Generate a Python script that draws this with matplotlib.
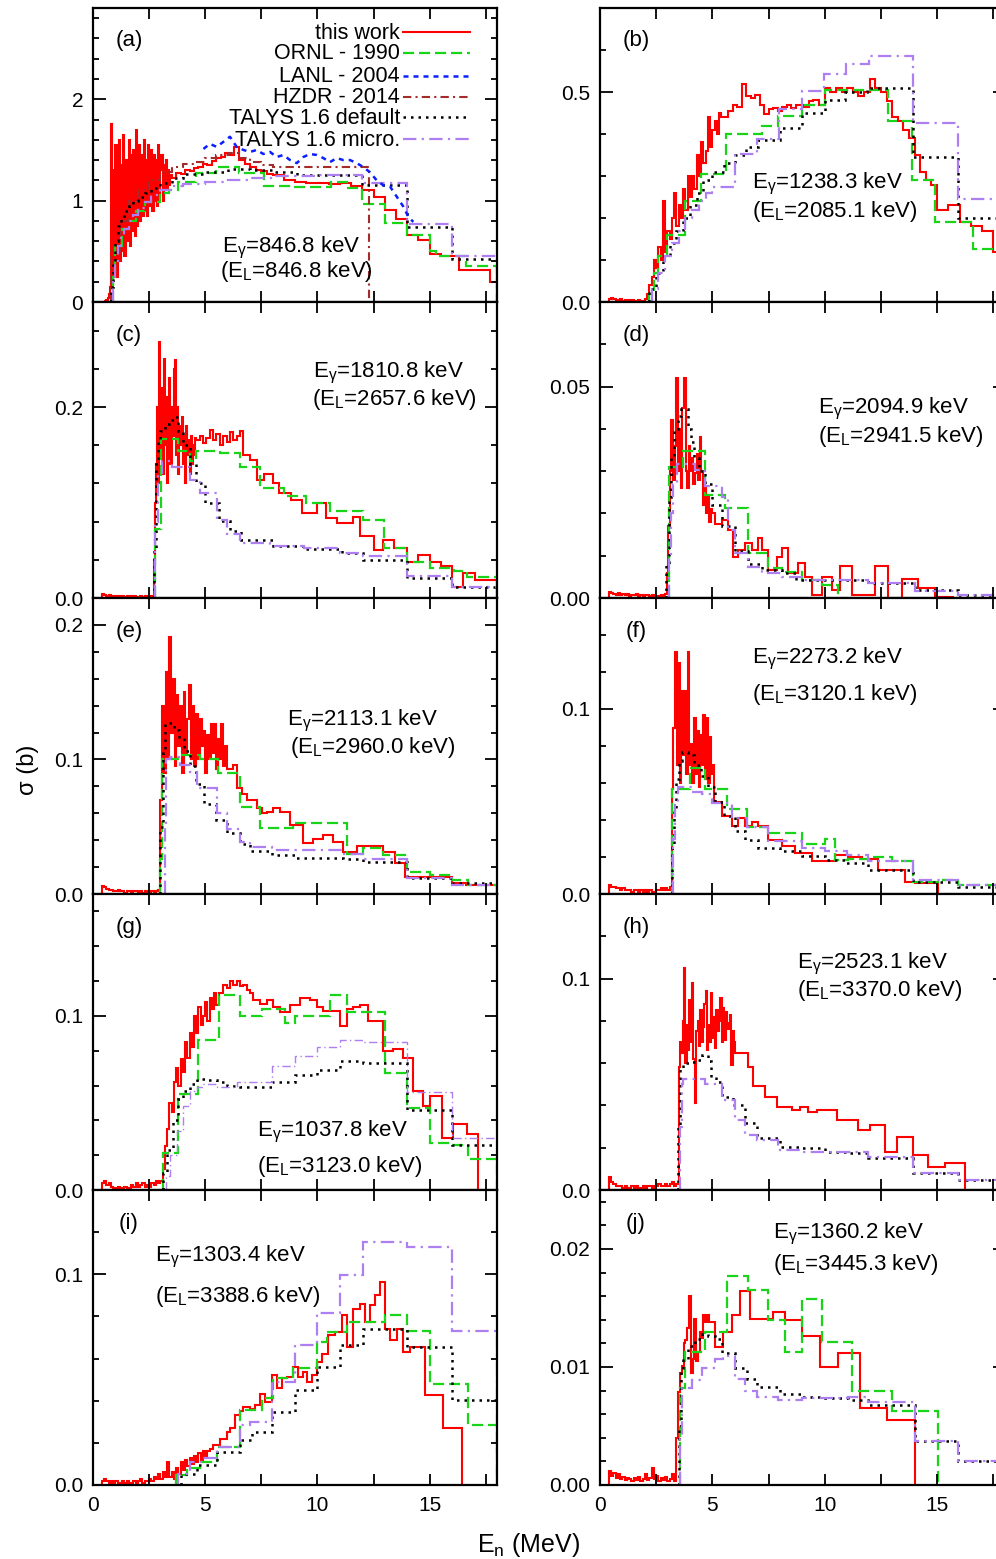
import numpy as np
import matplotlib
matplotlib.use("Agg")
import matplotlib.pyplot as plt
from matplotlib.ticker import MultipleLocator, FormatStrFormatter, NullFormatter

plt.rcParams['font.family'] = ['Liberation Sans', 'DejaVu Sans']
plt.rcParams['mathtext.fontset'] = 'custom'
plt.rcParams['mathtext.rm'] = 'Liberation Sans'
plt.rcParams['mathtext.it'] = 'Liberation Sans:italic'
plt.rcParams['mathtext.default'] = 'regular'

# ======================= DATA (energies in MeV, cross sections in b) =======================
# ---- panel (a) ----
A_WORK_BASE_Y = [0.0, 0.0, 0.0, 0.01, 0.02, 0.04, 0.08, 0.15]          # 0.4 .. 0.8, width 0.05
A_WORK_PEAK_Y = [1.76, 0.15, 1.3, 0.3, 1.55, 0.25, 1.1, 1.6, 0.4, 1.35,
                 0.5, 1.65, 0.45, 1.4, 0.6, 1.2, 1.6, 0.55, 1.45, 0.7,
                 1.5, 0.65, 1.7, 0.75, 1.3, 1.55, 0.8, 1.45, 0.85, 1.6,
                 0.9, 1.4, 0.85, 1.55, 0.95, 1.35, 1.5, 0.9, 1.45, 1.0,
                 1.4, 0.95, 1.55, 1.05, 1.3, 1.45, 1.0, 1.35, 1.1, 1.4,
                 1.1, 1.3, 1.15, 1.25]                                      # 0.8 .. 3.5, width 0.05
A_WORK_MID_Y = [1.22, 1.27, 1.26, 1.3, 1.29, 1.32, 1.33, 1.36, 1.35, 1.39,
                1.42, 1.43, 1.47, 1.45, 1.53]                               # 3.5 .. 6.5, width 0.2
A_WORK_TAIL_E = [6.5, 6.75, 7.0, 7.25, 7.5, 7.75, 8.0, 8.5, 9.0, 9.5, 10.0, 10.5, 11.0,
                 11.5, 12.0, 12.5, 13.0, 13.5, 14.0, 14.5, 15.0, 15.5, 16.3, 17.7, 18.0]
A_WORK_TAIL_Y = [1.4, 1.36, 1.33, 1.3, 1.29, 1.26, 1.25, 1.2, 1.18, 1.17, 1.17, 1.16,
                 1.17, 1.14, 1.1, 1.04, 0.91, 0.82, 0.66, 0.61, 0.47, 0.45, 0.32, 0.2]
A_ORNL_E = [0.9, 1.0, 1.3, 1.6, 1.9, 2.3, 3.0, 3.4, 3.8, 4.6, 5.5, 6.5, 7.6, 8.8, 10.6,
            11.3, 12.0, 13.0, 14.0, 15.0, 15.3, 16.6, 18.0]
A_ORNL_Y = [0.25, 0.55, 0.72, 0.8, 0.9, 0.99, 1.08, 1.1, 1.18, 1.27, 1.33, 1.27, 1.14,
            1.13, 1.18, 1.12, 0.97, 0.78, 0.66, 0.5, 0.45, 0.36]
A_LANL_E = [4.92, 5.21, 5.51, 5.81, 6.1, 6.4, 6.7, 7.0, 7.29, 7.59, 7.89, 8.18, 8.48,
            8.78, 9.08, 9.37, 9.67, 9.97, 10.26, 10.56, 10.86, 11.15, 11.45, 11.75,
            12.05, 12.34, 12.64, 12.94, 13.23, 13.53, 13.83, 14.05, 14.27]
A_LANL_Y = [1.51, 1.56, 1.53, 1.58, 1.63, 1.53, 1.5, 1.48, 1.5, 1.46, 1.48, 1.43, 1.45,
            1.4, 1.37, 1.43, 1.46, 1.45, 1.42, 1.38, 1.42, 1.4, 1.4, 1.37, 1.33, 1.28,
            1.2, 1.15, 1.14, 1.04, 0.94, 0.84, 0.79]
A_HZDR_E = [0.8, 1.2, 1.6, 2.0, 2.5, 3.0, 3.5, 4.0, 4.5, 5.0, 5.5, 6.0, 6.5, 7.0, 7.5,
            8.0, 8.5, 12.3]
A_HZDR_Y = [0.5, 0.8, 1.0, 1.1, 1.2, 1.28, 1.33, 1.36, 1.38, 1.42, 1.45, 1.47, 1.42,
            1.38, 1.35, 1.33, 1.33]
A_TDEF_E = [0.8, 0.9, 1.0, 1.1, 1.25, 1.4, 1.6, 1.8, 2.0, 2.3, 2.6, 3.0, 3.5, 4.0, 5.0,
            6.0, 7.0, 8.0, 9.1, 12.0, 14.0, 16.0, 18.0]
A_TDEF_Y = [0.15, 0.38, 0.6, 0.75, 0.82, 0.9, 0.95, 1.0, 1.04, 1.08, 1.12, 1.17, 1.22,
            1.26, 1.28, 1.31, 1.3, 1.28, 1.25, 1.15, 0.74, 0.42]
A_TMIC_E = [0.9, 1.0, 1.1, 1.25, 1.4, 1.6, 1.8, 2.0, 2.3, 2.6, 3.0, 3.5, 4.0, 5.0, 6.0,
            7.0, 8.0, 10.0, 12.0, 14.0, 16.0, 18.0]
A_TMIC_Y = [0.2, 0.4, 0.55, 0.65, 0.72, 0.8, 0.86, 0.93, 0.99, 1.06, 1.1, 1.14, 1.16,
            1.18, 1.2, 1.22, 1.24, 1.25, 1.175, 0.77, 0.45]

# ---- panel (b) ----
B_WORK_BASE_Y = [0.008, 0.01, 0.006, 0.005, 0.004, 0.006, 0.003, 0.004, 0.005, 0.003,
                 0.004, 0.002, 0.003, 0.004, 0.002, 0.003, 0.006]            # 0.4 .. 2.1, width 0.1
B_WORK_PEAK_Y = [0.02, 0.04, 0.06, 0.1, 0.08, 0.13, 0.1, 0.24, 0.12, 0.17,
                 0.15, 0.2, 0.26, 0.18, 0.23, 0.2, 0.27, 0.22, 0.3, 0.25,
                 0.3, 0.27, 0.35, 0.3, 0.38, 0.33, 0.36, 0.44, 0.37, 0.41,
                 0.43, 0.4, 0.45, 0.44]                                      # 2.1 .. 5.5, width 0.1
B_WORK_TAIL_E = [5.5, 5.7, 5.9, 6.1, 6.3, 6.5, 6.7, 6.9, 7.1, 7.3, 7.5, 7.7, 7.9, 8.1,
                 8.3, 8.5, 8.7, 8.9, 9.1, 9.3, 9.5, 9.75, 10.0, 10.25, 10.5, 10.75,
                 11.0, 11.25, 11.5, 11.75, 12.0, 12.25, 12.5, 12.75, 13.0, 13.25, 13.5,
                 13.75, 14.0, 14.25, 14.5, 14.75, 15.0, 15.25, 15.5, 15.75, 16.0, 16.5,
                 17.0, 17.5, 18.0]
B_WORK_TAIL_Y = [0.44, 0.455, 0.47, 0.465, 0.518, 0.49, 0.486, 0.494, 0.47, 0.447,
                 0.46, 0.463, 0.455, 0.465, 0.47, 0.462, 0.468, 0.47, 0.465, 0.478,
                 0.48, 0.47, 0.51, 0.5, 0.51, 0.5, 0.51, 0.5, 0.49, 0.5,
                 0.53, 0.51, 0.5, 0.478, 0.44, 0.43, 0.41, 0.39, 0.35, 0.31,
                 0.29, 0.278, 0.22, 0.22, 0.23, 0.23, 0.19, 0.18, 0.17, 0.12]
B_ORNL_E = [2.2, 2.4, 2.6, 3.0, 3.8, 4.5, 5.6, 7.2, 7.9, 9.0, 10.0, 12.8, 13.9, 14.9,
            16.6, 18.0]
B_ORNL_Y = [0.02, 0.07, 0.11, 0.16, 0.24, 0.305, 0.4, 0.42, 0.443, 0.47, 0.505, 0.43,
            0.29, 0.19, 0.126]
B_TDEF_E = [2.2, 2.5, 2.8, 3.1, 3.4, 3.7, 4.0, 4.3, 4.6, 5.0, 5.5, 6.0, 6.5, 7.05, 8.0,
            9.0, 10.0, 10.9, 11.9, 13.95, 15.95, 18.0]
B_TDEF_Y = [0.03, 0.07, 0.11, 0.14, 0.17, 0.2, 0.23, 0.26, 0.29, 0.31, 0.33, 0.35, 0.37,
            0.385, 0.415, 0.449, 0.48, 0.5, 0.51, 0.345, 0.2]
B_TMIC_E = [2.3, 2.6, 2.9, 3.2, 3.5, 3.8, 4.1, 4.4, 4.7, 5.0, 6.0, 7.0, 7.95, 8.97,
            9.95, 10.95, 11.95, 13.95, 15.95, 18.0]
B_TMIC_Y = [0.03, 0.07, 0.11, 0.14, 0.17, 0.2, 0.22, 0.24, 0.26, 0.273, 0.352, 0.388,
            0.46, 0.503, 0.542, 0.566, 0.586, 0.426, 0.245]

# ---- panel (c) ----
C_WORK_BASE_Y = [0.004, 0.003, 0.002, 0.003, 0.002, 0.001, 0.002, 0.002, 0.001, 0.002,
                 0.001, 0.002, 0.002, 0.001, 0.002, 0.001, 0.001, 0.002, 0.001, 0.002,
                 0.001, 0.001, 0.002]                                        # 0.4 .. 2.7, width 0.1
C_WORK_PEAK_Y = [0.04, 0.1, 0.14, 0.2, 0.12, 0.268, 0.15, 0.22, 0.13, 0.25,
                 0.16, 0.21, 0.12, 0.19, 0.23, 0.14, 0.2, 0.17, 0.24, 0.249,
                 0.15, 0.2, 0.13, 0.18, 0.16, 0.19, 0.14, 0.17, 0.12, 0.18,
                 0.15, 0.165, 0.13, 0.17, 0.14, 0.16, 0.15, 0.168]             # 2.7 .. 4.6, width 0.05
C_WORK_TAIL_E = [4.6, 4.75, 4.9, 5.05, 5.2, 5.35, 5.5, 5.65, 5.8, 5.95, 6.1, 6.25, 6.4,
                 6.55, 6.7, 7.0, 7.3, 7.6, 8.0, 8.3, 8.8, 9.3, 10.0, 10.4, 10.86, 11.6,
                 11.9, 12.5, 12.9, 13.4, 14.0, 14.5, 15.0, 15.5, 16.0, 16.5, 17.0, 18.0]
C_WORK_TAIL_Y = [0.165, 0.17, 0.162, 0.168, 0.176, 0.165, 0.172, 0.16, 0.17, 0.163,
                 0.174, 0.165, 0.17, 0.175, 0.15, 0.145, 0.124, 0.13, 0.12, 0.11,
                 0.103, 0.089, 0.1, 0.084, 0.079, 0.085, 0.065, 0.05, 0.061, 0.052,
                 0.038, 0.045, 0.038, 0.033, 0.012, 0.026, 0.019]
C_ORNL_E = [2.75, 3.05, 3.8, 4.3, 4.6, 5.65, 6.55, 7.45, 8.5, 9.5, 10.55, 12.05, 12.95,
            14.0, 15.0, 16.1, 16.65, 18.0]
C_ORNL_Y = [0.072, 0.166, 0.154, 0.143, 0.154, 0.152, 0.137, 0.115, 0.107, 0.1, 0.091,
            0.082, 0.052, 0.038, 0.031, 0.028, 0.022]
C_TDEF_E = [2.7, 2.8, 2.9, 3.0, 3.2, 3.4, 3.6, 3.8, 4.0, 4.3, 4.6, 5.0, 5.6, 6.1, 6.6,
            8.0, 9.5, 11.1, 12.05, 14.0, 16.0, 18.0]
C_TDEF_Y = [0.05, 0.14, 0.165, 0.175, 0.182, 0.186, 0.19, 0.175, 0.16, 0.14, 0.12, 0.1,
            0.081, 0.07, 0.061, 0.054, 0.051, 0.047, 0.04, 0.021, 0.012]
C_TMIC_E = [2.75, 2.9, 3.08, 3.54, 4.32, 4.77, 5.51, 5.96, 6.55, 7.9, 9.4, 11.0, 12.05,
            14.0, 16.0, 18.0]
C_TMIC_Y = [0.08, 0.13, 0.143, 0.137, 0.124, 0.11, 0.082, 0.067, 0.058, 0.054, 0.052,
            0.047, 0.044, 0.023, 0.012]

# ---- panel (d) ----
D_WORK_BASE_Y = [0.0015, 0.0012, 0.001, 0.0008, 0.0012, 0.0006, 0.0009, 0.0007, 0.001,
                 0.0005, 0.0008, 0.0006, 0.0009, 0.0004, 0.0007, 0.0005, 0.0006, 0.0008,
                 0.0004, 0.0006, 0.0003, 0.0005, 0.0004, 0.0006, 0.0003]     # 0.4 .. 2.9, width 0.1
D_WORK_PEAK_Y = [0.001, 0.006, 0.017, 0.03, 0.042, 0.028, 0.036, 0.052, 0.03, 0.04,
                 0.026, 0.045, 0.052, 0.03, 0.026, 0.036, 0.03, 0.033, 0.027, 0.0295,
                 0.034, 0.028, 0.038, 0.03, 0.022, 0.026, 0.02, 0.024, 0.018, 0.021]  # 2.9 .. 5.0, width 0.07
D_WORK_TAIL_E = [5.0, 5.12, 5.41, 5.71, 5.93, 6.16, 6.45, 6.75, 7.05, 7.19, 7.49, 7.86,
                 8.1, 8.38, 8.83, 9.12, 9.42, 9.87, 10.31, 10.68, 11.2, 11.72, 12.24,
                 12.83, 13.43, 14.17, 14.9, 15.7]
D_WORK_TAIL_Y = [0.02, 0.0175, 0.0185, 0.0161, 0.0098, 0.0114, 0.0129, 0.0114, 0.0141,
                 0.0114, 0.0066, 0.0098, 0.0118, 0.0058, 0.0082, 0.005, 0.0007, 0.005,
                 0.0018, 0.0075, 0.0007, 0.0007, 0.0075, 0.0, 0.0044, 0.0024, 0.0003]
D_ORNL_E = [3.05, 3.71, 4.67, 5.56, 6.6, 7.49, 8.08, 8.97, 9.87, 10.6]
D_ORNL_Y = [0.031, 0.0347, 0.0244, 0.0213, 0.0106, 0.007, 0.0062, 0.0043, 0.0031]
D_TDEF_E = [2.95, 3.05, 3.15, 3.3, 3.45, 3.6, 3.9, 4.05, 4.2, 4.4, 4.67, 4.97, 5.41,
            6.0, 6.6, 7.19, 8.08, 8.7, 11.94, 14.0, 15.95, 18.0]
D_TDEF_Y = [0.008, 0.024, 0.033, 0.04, 0.043, 0.0446, 0.04, 0.037, 0.033, 0.03, 0.027,
            0.022, 0.017, 0.011, 0.008, 0.0066, 0.0058, 0.0043, 0.0035, 0.0019, 0.0007]
D_TMIC_E = [3.05, 3.15, 3.26, 3.41, 4.23, 4.67, 5.41, 5.71, 6.0, 6.6, 7.19, 8.08, 8.97,
            11.94, 14.0, 15.95, 18.0]
D_TMIC_Y = [0.01, 0.02, 0.027, 0.0318, 0.0302, 0.0264, 0.024, 0.016, 0.0106, 0.0074,
            0.0058, 0.005, 0.0043, 0.0035, 0.0016, 0.0007]

# ---- panel (e) ----
E_WORK_BASE_Y = [0.006, 0.005, 0.004, 0.003, 0.003, 0.002, 0.002, 0.003, 0.002, 0.002,
                 0.001, 0.002, 0.002, 0.001, 0.002, 0.002, 0.001, 0.002, 0.001, 0.002,
                 0.001, 0.001, 0.002, 0.001, 0.002, 0.003]                   # 0.4 .. 3.0, width 0.1
E_WORK_PEAK_Y = [0.07, 0.14, 0.09, 0.165, 0.1, 0.191, 0.12, 0.16, 0.095, 0.148,
                 0.11, 0.14, 0.09, 0.15, 0.105, 0.13, 0.155, 0.1, 0.14, 0.095,
                 0.134, 0.1, 0.13, 0.11, 0.121, 0.09, 0.118, 0.1, 0.126, 0.105,
                 0.126, 0.093, 0.115, 0.1, 0.126, 0.095, 0.11]               # 3.0 .. 5.96, width 0.08
E_WORK_TAIL_E = [5.96, 6.25, 6.4, 6.62, 6.85, 7.29, 7.52, 7.74, 8.04, 8.33, 8.78, 9.37,
                 9.82, 10.26, 10.71, 11.16, 11.75, 12.94, 13.46, 13.9, 16.0, 16.6, 18.0]
E_WORK_TAIL_Y = [0.093, 0.096, 0.079, 0.074, 0.07, 0.064, 0.06, 0.061, 0.064, 0.061,
                 0.051, 0.038, 0.041, 0.044, 0.039, 0.031, 0.036, 0.031, 0.023, 0.013,
                 0.008, 0.007]
E_ORNL_E = [2.99, 3.06, 3.8, 4.77, 5.59, 6.55, 7.44, 8.93, 11.3, 12.05, 12.94, 14.0,
            15.0, 16.0, 16.7, 18.0]
E_ORNL_Y = [0.026, 0.1, 0.103, 0.1, 0.09, 0.065, 0.049, 0.053, 0.03, 0.034, 0.029,
            0.016, 0.014, 0.0105, 0.007]
E_TDEF_E = [3.0, 3.1, 3.2, 3.35, 3.6, 3.85, 4.05, 4.3, 4.6, 4.95, 5.5, 5.96, 6.55, 7.0,
            7.96, 9.0, 11.16, 12.05, 14.0, 16.0, 18.0]
E_TDEF_Y = [0.05, 0.105, 0.127, 0.127, 0.122, 0.116, 0.106, 0.095, 0.082, 0.067, 0.055,
            0.045, 0.037, 0.032, 0.029, 0.027, 0.026, 0.024, 0.0122, 0.008]
E_TMIC_E = [3.2, 3.27, 3.43, 3.88, 4.32, 4.62, 5.51, 5.96, 6.55, 7.0, 7.96, 11.16, 12.05,
            14.0, 16.0, 18.0]
E_TMIC_Y = [0.05, 0.1, 0.102, 0.096, 0.091, 0.079, 0.06, 0.048, 0.039, 0.035, 0.033,
            0.03, 0.026, 0.012, 0.007]

# ---- panel (f) ----
F_WORK_BASE_Y = [0.005, 0.004, 0.004, 0.003, 0.003, 0.002, 0.003, 0.002, 0.002, 0.002,
                 0.001, 0.002, 0.002, 0.001, 0.002, 0.001, 0.002, 0.001, 0.002, 0.001,
                 0.001, 0.002, 0.002, 0.003, 0.002, 0.003, 0.002, 0.004]     # 0.4 .. 3.2, width 0.1
F_WORK_PEAK_Y = [0.057, 0.09, 0.131, 0.07, 0.125, 0.06, 0.11, 0.075, 0.11, 0.065,
                 0.131, 0.07, 0.081, 0.06, 0.095, 0.065, 0.088, 0.058, 0.086, 0.07,
                 0.097, 0.062, 0.095, 0.06, 0.085, 0.065, 0.07]               # 3.2 .. 5.09, width 0.07
F_WORK_TAIL_E = [5.09, 5.41, 5.86, 6.16, 6.45, 6.75, 7.05, 7.49, 8.08, 8.68, 9.42, 10.46,
                 11.05, 11.64, 12.39, 13.57, 14.0, 15.06]
F_WORK_TAIL_Y = [0.05, 0.042, 0.037, 0.041, 0.037, 0.039, 0.037, 0.029, 0.026, 0.022,
                 0.018, 0.021, 0.02, 0.019, 0.013, 0.0067, 0.0058]
F_ORNL_E = [3.2, 4.0, 4.67, 5.63, 6.53, 7.49, 8.97, 10.0, 10.46, 11.05, 12.09, 12.98,
            13.94, 15.06, 15.95, 18.0]
F_ORNL_Y = [0.057, 0.068, 0.057, 0.046, 0.036, 0.033, 0.027, 0.03, 0.0185, 0.019, 0.02,
            0.0176, 0.0067, 0.0076, 0.0049]
F_TDEF_E = [3.2, 3.3, 3.4, 3.5, 3.65, 3.9, 4.2, 4.5, 4.8, 5.1, 5.5, 6.0, 6.45, 7.05, 8.0,
            8.97, 10.0, 10.9, 11.94, 13.94, 15.95, 18.0]
F_TDEF_Y = [0.025, 0.045, 0.062, 0.072, 0.077, 0.075, 0.07, 0.064, 0.058, 0.05, 0.042,
            0.034, 0.029, 0.025, 0.023, 0.0205, 0.0185, 0.0167, 0.013, 0.0067, 0.004]
F_TMIC_E = [3.26, 3.34, 3.49, 4.08, 4.52, 4.97, 5.86, 6.53, 7.49, 8.97, 10.0, 10.98,
            11.94, 13.94, 15.95, 18.0]
F_TMIC_Y = [0.03, 0.048, 0.058, 0.055, 0.054, 0.049, 0.041, 0.036, 0.0285, 0.025,
            0.0231, 0.0212, 0.0176, 0.0076, 0.0049]

# ---- panel (g) ----
G_WORK_BASE_Y = [0.004, 0.005, 0.003, 0.004, 0.002, 0.001, 0.001, 0.002, 0.001, 0.001,
                 0.002, 0.001, 0.001, 0.003, 0.002, 0.004, 0.002, 0.003, 0.004, 0.002,
                 0.003, 0.002, 0.004, 0.003, 0.005, 0.004]                   # 0.4 .. 3.0, width 0.1
G_WORK_PEAK_Y = [0.005, 0.012, 0.025, 0.035, 0.05, 0.045, 0.062, 0.07, 0.06, 0.075,
                 0.068, 0.085, 0.076, 0.09, 0.082, 0.1, 0.09, 0.105, 0.095, 0.1,
                 0.108, 0.097, 0.11, 0.104, 0.113, 0.106]                    # 3.0 .. 5.6, width 0.1
G_WORK_TAIL_E = [5.6, 5.8, 5.95, 6.1, 6.25, 6.4, 6.55, 6.7, 6.85, 7.0, 7.14, 7.44, 7.74,
                 8.04, 8.33, 8.78, 9.22, 9.67, 9.97, 10.26, 11.0, 11.3, 11.6, 11.9,
                 12.27, 12.94, 13.38, 13.83, 14.27, 14.72, 15.0, 15.54, 16.06, 16.65, 17.17]
G_WORK_TAIL_Y = [0.113, 0.118, 0.116, 0.12, 0.118, 0.12, 0.117, 0.118, 0.115, 0.113,
                 0.109, 0.107, 0.109, 0.105, 0.102, 0.106, 0.11, 0.109, 0.105, 0.103,
                 0.094, 0.104, 0.105, 0.106, 0.097, 0.08, 0.081, 0.076, 0.057, 0.048,
                 0.054, 0.03, 0.038, 0.032]
G_ORNL_E = [3.13, 3.8, 4.7, 5.6, 6.55, 7.52, 8.55, 9.0, 10.56, 11.3, 13.0, 14.0, 15.0,
            16.0, 16.7, 18.0]
G_ORNL_Y = [0.021, 0.055, 0.086, 0.112, 0.1, 0.104, 0.096, 0.1, 0.112, 0.102, 0.067,
            0.047, 0.027, 0.026, 0.018]
G_TDEF_E = [3.1, 3.3, 3.55, 3.8, 4.0, 4.3, 4.62, 5.07, 5.51, 5.96, 6.55, 7.96, 9.0, 9.97,
            11.0, 12.05, 14.0, 16.0, 18.0]
G_TDEF_Y = [0.01, 0.023, 0.04, 0.052, 0.057, 0.061, 0.064, 0.063, 0.062, 0.06, 0.059,
            0.062, 0.066, 0.069, 0.074, 0.073, 0.046, 0.026]
G_TMIC_E = [3.25, 3.45, 3.73, 4.02, 4.32, 4.62, 4.92, 5.51, 6.4, 7.96, 9.0, 9.97, 11.0,
            12.05, 14.0, 16.0, 18.0]
G_TMIC_Y = [0.008, 0.02, 0.034, 0.048, 0.057, 0.059, 0.061, 0.059, 0.062, 0.071, 0.077,
            0.082, 0.086, 0.085, 0.056, 0.03]

# ---- panel (h) ----
H_WORK_BASE_Y = [0.006, 0.004, 0.003, 0.002, 0.002, 0.002, 0.001, 0.002, 0.001, 0.001,
                 0.002, 0.001, 0.002, 0.001, 0.001, 0.002, 0.001, 0.002, 0.002, 0.001,
                 0.002, 0.002, 0.003, 0.002, 0.002, 0.003, 0.002, 0.003, 0.004, 0.002,
                 0.003]                                                      # 0.4 .. 3.5, width 0.1
H_WORK_PEAK_Y = [0.058, 0.07, 0.065, 0.08, 0.105, 0.06, 0.078, 0.066, 0.09, 0.07,
                 0.098, 0.062, 0.041, 0.075, 0.08, 0.068, 0.085, 0.07, 0.077, 0.088,
                 0.094, 0.066, 0.078, 0.07, 0.093, 0.072, 0.082, 0.067, 0.085, 0.075,
                 0.08, 0.091, 0.07, 0.086, 0.071, 0.084, 0.076, 0.079, 0.083, 0.059,
                 0.075, 0.07]                                                # 3.5 .. 6.02, width 0.06
H_WORK_TAIL_E = [6.02, 6.6, 6.82, 7.34, 7.86, 8.53, 8.9, 9.27, 9.64, 10.53, 11.5, 12.0,
                 12.68, 13.2, 13.94, 14.6, 15.35, 16.24]
H_WORK_TAIL_Y = [0.065, 0.058, 0.049, 0.044, 0.0393, 0.0377, 0.0393, 0.037, 0.0377,
                 0.033, 0.0283, 0.0307, 0.0181, 0.0252, 0.0165, 0.011, 0.0126]
H_TDEF_E = [3.45, 3.56, 3.7, 3.95, 4.25, 4.55, 4.8, 4.95, 5.15, 5.45, 5.9, 6.45, 6.97,
            8.01, 8.97, 10.0, 11.05, 11.94, 13.94, 15.95, 18.0]
H_TDEF_Y = [0.03, 0.057, 0.06, 0.0605, 0.0613, 0.0637, 0.061, 0.0535, 0.0511, 0.044,
            0.04, 0.0315, 0.0244, 0.0204, 0.0197, 0.0181, 0.0173, 0.015, 0.0079, 0.0047]
H_TMIC_E = [3.56, 3.64, 3.71, 4.67, 5.41, 6.0, 6.45, 6.97, 7.93, 8.97, 11.94, 13.94,
            15.95, 18.0]
H_TMIC_Y = [0.03, 0.0503, 0.0527, 0.0503, 0.0425, 0.033, 0.026, 0.0236, 0.0189, 0.0181,
            0.0157, 0.0082, 0.0047]

# ---- panel (i) ----
I_WORK_BASE_Y = [0.002, 0.003, 0.002, 0.001, 0.002, 0.001, 0.002, 0.001, 0.001, 0.002,
                 0.001, 0.002, 0.001, 0.001, 0.002, 0.001, 0.002, 0.003, 0.001, 0.002,
                 0.002, 0.003, 0.002, 0.004, 0.003, 0.005, 0.003, 0.006, 0.004, 0.011,
                 0.004, 0.006, 0.003, 0.008, 0.005, 0.011, 0.007, 0.012, 0.009, 0.013,
                 0.01, 0.014, 0.011, 0.015, 0.012, 0.016, 0.014, 0.016]       # 0.4 .. 5.2, width 0.1
I_WORK_TAIL_E = [5.2, 5.36, 5.66, 5.96, 6.1, 6.33, 6.55, 6.7, 7.0, 7.2, 7.44, 7.66, 7.96,
                 8.18, 8.4, 8.63, 8.93, 9.15, 9.37, 9.52, 9.74, 9.97, 10.19, 10.49,
                 10.78, 11.08, 11.3, 11.6, 11.9, 12.12, 12.34, 12.57, 12.79, 13.01,
                 13.23, 13.53, 13.83, 14.12, 14.8, 15.6, 16.43]
I_WORK_TAIL_Y = [0.017, 0.019, 0.022, 0.025, 0.027, 0.033, 0.035, 0.037, 0.036, 0.038,
                 0.043, 0.0395, 0.052, 0.046, 0.0506, 0.0514, 0.0561, 0.0514, 0.0537,
                 0.049, 0.0521, 0.0585, 0.0624, 0.0711, 0.0727, 0.0806, 0.0656, 0.0837,
                 0.0861, 0.0774, 0.0853, 0.09, 0.0964, 0.0742, 0.0687, 0.0742, 0.0632,
                 0.0656, 0.0427, 0.0269]
I_ORNL_E = [3.7, 4.2, 4.77, 5.51, 6.55, 7.52, 8.04, 8.93, 9.97, 10.41, 11.3, 13.01,
            13.98, 15.0, 16.7, 18.0]
I_ORNL_Y = [0.0047, 0.0079, 0.011, 0.0182, 0.0356, 0.0411, 0.0506, 0.0553, 0.068, 0.0727,
            0.0774, 0.0809, 0.0732, 0.048, 0.0284]
I_TDEF_E = [3.9, 4.62, 5.51, 6.55, 7.07, 7.96, 9.0, 9.97, 11.0, 12.05, 14.0, 16.0, 18.0]
I_TDEF_Y = [0.005, 0.0095, 0.0158, 0.0213, 0.0253, 0.0348, 0.045, 0.0561, 0.0664, 0.0742,
            0.0656, 0.0403]
I_TMIC_E = [3.8, 4.3, 4.92, 5.51, 6.55, 7.0, 7.96, 9.0, 9.97, 11.0, 12.05, 14.0, 16.0,
            18.0]
I_TMIC_Y = [0.005, 0.011, 0.0126, 0.0182, 0.0284, 0.03, 0.049, 0.0664, 0.0814, 0.0995,
            0.1153, 0.113, 0.073]

# ---- panel (j) ----
J_WORK_BASE_Y = [0.0012, 0.0008, 0.001, 0.0006, 0.0009, 0.0005, 0.0007, 0.0004, 0.0006,
                 0.0005, 0.0003, 0.0006, 0.0004, 0.0007, 0.0003, 0.0005, 0.0009, 0.0004,
                 0.0006, 0.0014, 0.0005, 0.0008, 0.0003, 0.0006, 0.0004, 0.0007, 0.0003,
                 0.0005, 0.0009, 0.0003]                                      # 0.4 .. 3.4, width 0.1
J_WORK_PEAK_Y = [0.004, 0.0079, 0.0095, 0.0101, 0.012, 0.0123, 0.0133, 0.016, 0.0095,
                 0.0107, 0.0141, 0.0105, 0.0113, 0.013, 0.0125, 0.0144, 0.0138, 0.0144]  # 3.4 .. 4.84, width 0.08
J_WORK_TAIL_E = [4.84, 5.12, 5.49, 5.86, 6.23, 6.68, 7.19, 7.71, 8.23, 8.97, 9.79, 10.6,
                 11.57, 12.76, 14.02]
J_WORK_TAIL_Y = [0.0138, 0.0117, 0.013, 0.0144, 0.0164, 0.0141, 0.0141, 0.0147, 0.014,
                 0.0126, 0.01, 0.0112, 0.0065, 0.0055]
J_ORNL_E = [3.56, 3.78, 4.67, 5.63, 6.6, 7.49, 8.23, 8.97, 9.87, 11.2, 12.98, 15.06]
J_ORNL_Y = [0.0082, 0.0113, 0.013, 0.0177, 0.0165, 0.014, 0.0113, 0.0158, 0.0121, 0.008,
            0.0063]
J_TDEF_E = [3.5, 3.6, 3.71, 3.93, 4.23, 4.52, 4.82, 5.12, 5.41, 6.0, 6.53, 6.97, 8.01,
            8.97, 10.0, 11.05, 11.94, 14.0, 15.95, 18.0]
J_TDEF_Y = [0.005, 0.0096, 0.0107, 0.0118, 0.0124, 0.0128, 0.0126, 0.0124, 0.0112,
            0.0099, 0.009, 0.0083, 0.0077, 0.0075, 0.0074, 0.0072, 0.0068, 0.0037, 0.002]
J_TMIC_E = [3.56, 3.64, 4.08, 4.52, 5.12, 5.49, 6.0, 6.45, 6.97, 7.93, 8.97, 11.05,
            11.94, 14.0, 15.95, 18.0]
J_TMIC_Y = [0.004, 0.0082, 0.0089, 0.0099, 0.0107, 0.0109, 0.009, 0.008, 0.0075, 0.0072,
            0.0074, 0.0075, 0.007, 0.0037, 0.002]

# ---- labels ----
PANEL_TAGS = ['(a)', '(b)', '(c)', '(d)', '(e)', '(f)', '(g)', '(h)', '(i)', '(j)']
E_GAMMA = ['846.8', '1238.3', '1810.8', '2094.9', '2113.1', '2273.2', '1037.8', '2523.1',
           '1303.4', '1360.2']
E_LEVEL = ['846.8', '2085.1', '2657.6', '2941.5', '2960.0', '3120.1', '3123.0', '3370.0',
           '3388.6', '3445.3']
LEGEND_LABELS = ['this work', 'ORNL - 1990', 'LANL - 2004', 'HZDR - 2014',
                 'TALYS 1.6 default', 'TALYS 1.6 micro.']
X_TICKS = [0, 5, 10, 15]

# ======================= STYLE =======================
C_RED = '#ff0000'
C_GREEN = '#19d419'
C_BLUE = '#0a1eff'
C_BROWN = '#a52a2a'
C_BLACK = '#000000'
C_PURPLE = '#ad7ff0'
STY = {
    'work': dict(color=C_RED, lw=1.5, ls='-'),
    'ornl': dict(color=C_GREEN, lw=1.6, ls=(0, (5.0, 2.2))),
    'lanl': dict(color=C_BLUE, lw=1.8, ls=(0, (2.0, 2.0))),
    'hzdr': dict(color=C_BROWN, lw=1.5, ls=(0, (4.0, 2.0, 1.0, 2.0))),
    'tdef': dict(color=C_BLACK, lw=1.8, ls=(0, (1.0, 2.0))),
    'tmic': dict(color=C_PURPLE, lw=1.6, ls=(0, (6.0, 2.4, 1.0, 2.4))),
}

# per-panel layout (axes fraction): tag position, annotation line1/line2 (x, baseline y)
ANNOT = [((0.319, 0.169), (0.314, 0.086)),
         ((0.375, 0.387), (0.375, 0.290)),
         ((0.545, 0.746), (0.542, 0.652)),
         ((0.540, 0.624), (0.540, 0.528)),
         ((0.479, 0.571), (0.488, 0.475)),
         ((0.375, 0.779), (0.375, 0.655)),
         ((0.405, 0.180), (0.405, 0.062)),
         ((0.486, 0.749), (0.486, 0.655)),
         ((0.153, 0.757), (0.153, 0.621)),
         ((0.428, 0.836), (0.428, 0.729))]
YAX = [(2.9, 1.0, 0.2, '%d'), (0.7, 0.5, 0.1, '%.1f'), (0.31, 0.2, 0.04, '%.1f'),
       (0.07, 0.05, 0.01, '%.2f'), (0.22, 0.1, 0.02, '%.1f'), (0.16, 0.1, 0.02, '%.1f'),
       (0.17, 0.1, 0.02, '%.1f'), (0.14, 0.1, 0.02, '%.1f'), (0.14, 0.1, 0.02, '%.1f'),
       (0.025, 0.01, 0.002, '%.2f')]


def uniform_edges(start, width, n):
    return start + width * np.arange(n + 1)


def work_series(segments, tail_e, tail_y):
    """segments: list of (start, width, values) uniform-bin parts, then irregular tail."""
    edges, vals = [], []
    for start, width, v in segments:
        e = uniform_edges(start, width, len(v))
        if edges:
            e = e[1:]
        edges.extend(list(e))
        vals.extend(v)
    edges.extend(tail_e[1:])
    vals.extend(tail_y)
    return np.array(edges), np.array(vals)


WORK = [
    work_series([(0.4, 0.05, A_WORK_BASE_Y), (0.8, 0.05, A_WORK_PEAK_Y), (3.5, 0.2, A_WORK_MID_Y)],
                A_WORK_TAIL_E, A_WORK_TAIL_Y),
    work_series([(0.4, 0.1, B_WORK_BASE_Y), (2.1, 0.1, B_WORK_PEAK_Y)], B_WORK_TAIL_E, B_WORK_TAIL_Y),
    work_series([(0.4, 0.1, C_WORK_BASE_Y), (2.7, 0.05, C_WORK_PEAK_Y)], C_WORK_TAIL_E, C_WORK_TAIL_Y),
    work_series([(0.4, 0.1, D_WORK_BASE_Y), (2.9, 0.07, D_WORK_PEAK_Y)], D_WORK_TAIL_E, D_WORK_TAIL_Y),
    work_series([(0.4, 0.1, E_WORK_BASE_Y), (3.0, 0.08, E_WORK_PEAK_Y)], E_WORK_TAIL_E, E_WORK_TAIL_Y),
    work_series([(0.4, 0.1, F_WORK_BASE_Y), (3.2, 0.07, F_WORK_PEAK_Y)], F_WORK_TAIL_E, F_WORK_TAIL_Y),
    work_series([(0.4, 0.1, G_WORK_BASE_Y), (3.0, 0.1, G_WORK_PEAK_Y)], G_WORK_TAIL_E, G_WORK_TAIL_Y),
    work_series([(0.4, 0.1, H_WORK_BASE_Y), (3.5, 0.06, H_WORK_PEAK_Y)], H_WORK_TAIL_E, H_WORK_TAIL_Y),
    work_series([(0.4, 0.1, I_WORK_BASE_Y)], I_WORK_TAIL_E, I_WORK_TAIL_Y),
    work_series([(0.4, 0.1, J_WORK_BASE_Y), (3.4, 0.08, J_WORK_PEAK_Y)], J_WORK_TAIL_E, J_WORK_TAIL_Y),
]
ORNL = [(A_ORNL_E, A_ORNL_Y), (B_ORNL_E, B_ORNL_Y), (C_ORNL_E, C_ORNL_Y), (D_ORNL_E, D_ORNL_Y),
        (E_ORNL_E, E_ORNL_Y), (F_ORNL_E, F_ORNL_Y), (G_ORNL_E, G_ORNL_Y), None,
        (I_ORNL_E, I_ORNL_Y), (J_ORNL_E, J_ORNL_Y)]
TDEF = [(A_TDEF_E, A_TDEF_Y), (B_TDEF_E, B_TDEF_Y), (C_TDEF_E, C_TDEF_Y), (D_TDEF_E, D_TDEF_Y),
        (E_TDEF_E, E_TDEF_Y), (F_TDEF_E, F_TDEF_Y), (G_TDEF_E, G_TDEF_Y), (H_TDEF_E, H_TDEF_Y),
        (I_TDEF_E, I_TDEF_Y), (J_TDEF_E, J_TDEF_Y)]
TMIC = [(A_TMIC_E, A_TMIC_Y), (B_TMIC_E, B_TMIC_Y), (C_TMIC_E, C_TMIC_Y), (D_TMIC_E, D_TMIC_Y),
        (E_TMIC_E, E_TMIC_Y), (F_TMIC_E, F_TMIC_Y), (G_TMIC_E, G_TMIC_Y), (H_TMIC_E, H_TMIC_Y),
        (I_TMIC_E, I_TMIC_Y), (J_TMIC_E, J_TMIC_Y)]

# ======================= FIGURE =======================
W, H = 996, 1559
fig = plt.figure(figsize=(W / 100, H / 100), dpi=100)

COL_X = [(93, 497), (600, 1004.5)]
ROW_Y = [(8, 302), (302, 598), (598, 894), (894, 1190), (1190, 1485)]

FS_TICK = 15
FS_ANN = 16
FS_TAG = 16
FS_LEG = 15.5


def step(ax, e, y, key, **extra):
    st = dict(STY[key])
    st.update(extra)
    ax.stairs(y, e, baseline=0, fill=False, color=st['color'], linewidth=st['lw'],
              linestyle=st['ls'])


axes = []
for i in range(10):
    r, c = divmod(i, 2)
    x0, x1 = COL_X[c]
    y0, y1 = ROW_Y[r]
    ax = fig.add_axes([x0 / W, 1 - y1 / H, (x1 - x0) / W, (y1 - y0) / H])
    axes.append(ax)

    e, y = WORK[i]
    step(ax, e, y, 'work')
    if ORNL[i] is not None:
        step(ax, ORNL[i][0], ORNL[i][1], 'ornl')
    if i == 0:
        ax.plot(A_LANL_E, A_LANL_Y, color=C_BLUE, lw=STY['lanl']['lw'], ls=STY['lanl']['ls'])
        step(ax, A_HZDR_E, A_HZDR_Y, 'hzdr')
    step(ax, TDEF[i][0], TDEF[i][1], 'tdef')
    step(ax, TMIC[i][0], TMIC[i][1], 'tmic', lw=(1.0 if i == 6 else STY['tmic']['lw']))

    ymax, ymaj, ymin, fmt = YAX[i]
    ax.set_xlim(0, 18)
    ax.set_ylim(0, ymax)
    ax.xaxis.set_major_locator(MultipleLocator(5))
    ax.xaxis.set_minor_locator(MultipleLocator(2.5))
    ax.yaxis.set_major_locator(MultipleLocator(ymaj))
    ax.yaxis.set_minor_locator(MultipleLocator(ymin))
    ax.yaxis.set_major_formatter(FormatStrFormatter(fmt))
    ax.tick_params(axis='x', which='both', direction='in', top=True, bottom=True,
                   length=8, width=1.3, labelsize=FS_TICK, pad=8,
                   labelbottom=(r == 4))
    ax.tick_params(axis='y', which='major', direction='in', left=True, right=True,
                   length=9, width=1.3, labelsize=FS_TICK, pad=7)
    ax.tick_params(axis='y', which='minor', direction='in', left=True, right=True,
                   length=4.5, width=1.3)
    for sp in ax.spines.values():
        sp.set_linewidth(1.6)

    ax.text(0.089, 0.888, PANEL_TAGS[i], transform=ax.transAxes, ha='center',
            va='center', fontsize=FS_TAG)
    (lx1, ly1), (lx2, ly2) = ANNOT[i]
    ax.text(lx1, ly1, r'E$_\gamma$=' + E_GAMMA[i] + ' keV', transform=ax.transAxes,
            ha='left', va='baseline', fontsize=FS_ANN)
    ax.text(lx2, ly2, '(E$_L$=' + E_LEVEL[i] + ' keV)', transform=ax.transAxes,
            ha='left', va='baseline', fontsize=FS_ANN)

# legend in panel (a), gnuplot-like: right-aligned text, sample line to the right
ax = axes[0]
leg_keys = ['work', 'ornl', 'lanl', 'hzdr', 'tdef', 'tmic']
leg_y = [0.917, 0.846, 0.770, 0.698, 0.628, 0.553]
for key, lab, yy in zip(leg_keys, LEGEND_LABELS, leg_y):
    st = STY[key]
    ax.plot([0.768, 0.933], [yy, yy], transform=ax.transAxes, color=st['color'],
            lw=st['lw'], ls=st['ls'], clip_on=False)
    ax.text(0.760, yy - 0.021, lab, transform=ax.transAxes, ha='right', va='baseline',
            fontsize=FS_LEG)

fig.text(28 / W, 1 - 770 / H, 'σ (b)', rotation=90, ha='center', va='center', fontsize=17)
fig.text(528 / W, 1 - 1545 / H, 'E$_n$ (MeV)', ha='center', va='center', fontsize=18)

fig.savefig('out.png', dpi=100)
